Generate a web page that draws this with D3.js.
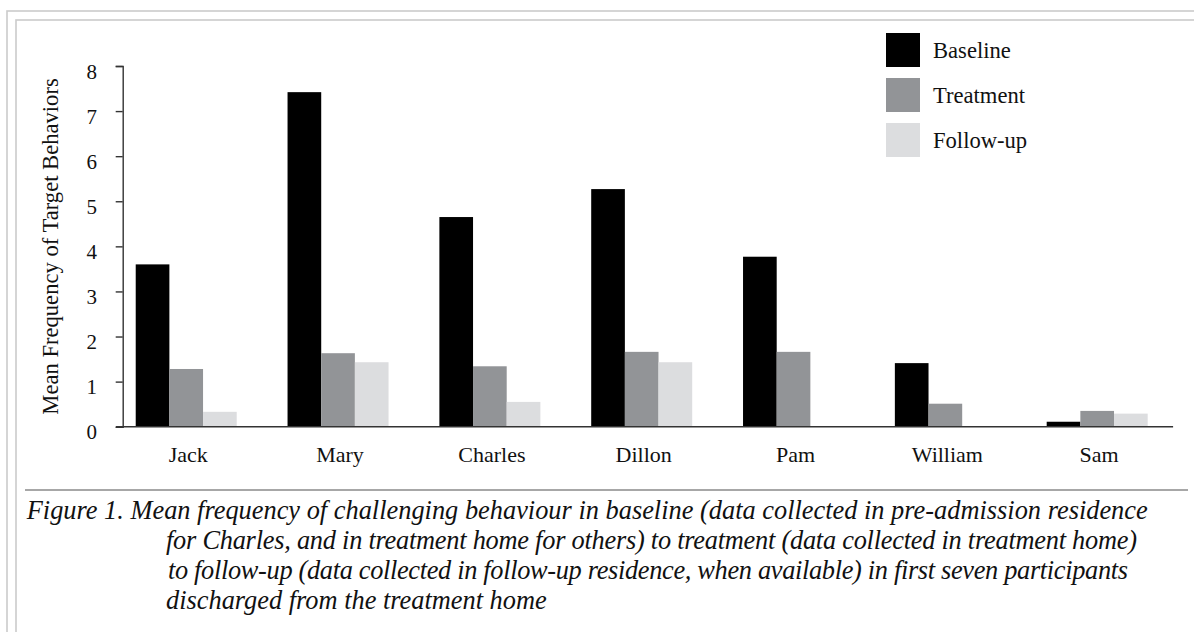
<!DOCTYPE html>
<html>
<head>
<meta charset="utf-8">
<script src="https://cdn.jsdelivr.net/npm/d3@7"></script>
<style>
  html, body { margin: 0; padding: 0; background: #fff; }
  svg { display: block; }
  text { font-family: "Liberation Serif", "Times New Roman", serif; fill: #111; }
</style>
</head>
<body>
<svg id="chart" width="1194" height="632"></svg>
<script>
// ---- data ----
const categories = ["Jack", "Mary", "Charles", "Dillon", "Pam", "William", "Sam"];
const seriesNames = ["Baseline", "Treatment", "Follow-up"];
const baseline  = [3.60, 7.42, 4.65, 5.27, 3.77, 1.41, 0.11];
const treatment = [1.28, 1.63, 1.34, 1.66, 1.66, 0.51, 0.35];
const followUp  = [0.33, 1.43, 0.55, 1.43, 0,    0,    0.29];
const yTicks = [0, 1, 2, 3, 4, 5, 6, 7, 8];
const yTitle = "Mean Frequency of Target Behaviors";
const captionLines = [
  "Figure 1. Mean frequency of challenging behaviour in baseline (data collected in pre-admission residence",
  "for Charles, and in treatment home for others) to treatment (data collected in treatment home)",
  "to follow-up (data collected in follow-up residence, when available) in first seven participants",
  "discharged from the treatment home"
];

const seriesValues = [baseline, treatment, followUp];
const colors = ["#000000", "#929497", "#dcdddf"];

const svg = d3.select("#chart");

// ---- frame ----
svg.append("rect").attr("x", 7).attr("y", 11).attr("width", 1300).attr("height", 700)
  .attr("fill", "none").attr("stroke", "#cbcbcb").attr("stroke-width", 1.6);
svg.append("rect").attr("x", 16).attr("y", 20).attr("width", 1300).attr("height", 700)
  .attr("fill", "none").attr("stroke", "#cbcbcb").attr("stroke-width", 1.6);

// ---- scales ----
const x0 = d3.scaleBand().domain(categories).range([110.3, 1173.1])
  .paddingInner(0.3348).paddingOuter(0.1674);
const x1 = d3.scaleBand().domain(seriesNames).range([0, x0.bandwidth()]);
const y = d3.scaleLinear().domain([0, 8]).range([426.7, 66]);

// ---- bars ----
const groups = svg.append("g").selectAll("g").data(categories).join("g")
  .attr("transform", d => `translate(${x0(d)},0)`);
groups.selectAll("rect")
  .data((c, i) => seriesNames.map((s, j) => ({ s, j, v: seriesValues[j][i] })))
  .join("rect")
  .attr("x", d => x1(d.s))
  .attr("width", x1.bandwidth())
  .attr("y", d => y(d.v))
  .attr("height", d => y(0) - y(d.v))
  .attr("fill", d => colors[d.j]);

// ---- y axis ----
const axisColor = "#333";
const yAxis = svg.append("g").attr("transform", "translate(122.7,0)")
  .call(d3.axisLeft(y).tickValues(yTicks).tickFormat(d3.format("d")).tickSize(7).tickSizeOuter(7));
yAxis.select(".domain").attr("stroke", axisColor).attr("stroke-width", 1.4);
yAxis.selectAll(".tick line").attr("stroke", axisColor).attr("stroke-width", 1.4);
yAxis.selectAll(".tick text")
  .attr("x", -25.7).attr("dy", null).attr("y", 12)
  .style("font-size", "21px").attr("fill", "#111")
  .style("font-family", '"Liberation Serif", serif');

// ---- x axis ----
svg.append("line").attr("x1", 116).attr("x2", x0.range()[1])
  .attr("y1", y(0)).attr("y2", y(0)).attr("stroke", axisColor).attr("stroke-width", 1.6);
const xAxis = svg.append("g").attr("transform", `translate(0,${y(0)})`)
  .call(d3.axisBottom(x0).tickSize(0));
xAxis.select(".domain").remove();
xAxis.selectAll(".tick text")
  .attr("y", 35.3).attr("dy", null).attr("dx", 2)
  .style("font-size", "22px").attr("fill", "#111")
  .style("font-family", '"Liberation Serif", serif');

// ---- y title ----
svg.append("text")
  .attr("transform", "translate(58,246.5) rotate(-90)")
  .attr("text-anchor", "middle")
  .style("font-size", "22.6px")
  .text(yTitle);

// ---- legend ----
const legend = svg.append("g").selectAll("g").data(seriesNames).join("g")
  .attr("transform", (d, i) => `translate(886,${33 + i * 45})`);
legend.append("rect").attr("width", 34).attr("height", 34)
  .attr("fill", (d, i) => colors[i]);
legend.append("text").attr("x", 47).attr("y", 25.3)
  .style("font-size", "22.6px").text(d => d);

// ---- separator + caption ----
svg.append("line").attr("x1", 25).attr("x2", 1188).attr("y1", 490).attr("y2", 490)
  .attr("stroke", "#8a8a8a").attr("stroke-width", 1.5);

const capX = [26.7, 166, 168, 166];
const capW = [1121, 971, 960, null];
const cap = svg.append("g");
const probe = cap.append("text").style("font-style", "italic").style("font-size", "100px").text(captionLines[0]);
const natural = probe.node().getComputedTextLength();
probe.remove();
const capSize = 100 * capW[0] / natural;
captionLines.forEach((line, i) => {
  const t = cap.append("text")
    .attr("x", capX[i]).attr("y", 519 + i * 30)
    .style("font-style", "italic")
    .style("font-size", capSize.toFixed(2) + "px")
    .text(line);
  if (capW[i]) t.attr("textLength", capW[i]).attr("lengthAdjust", "spacing");
});
</script>
</body>
</html>
